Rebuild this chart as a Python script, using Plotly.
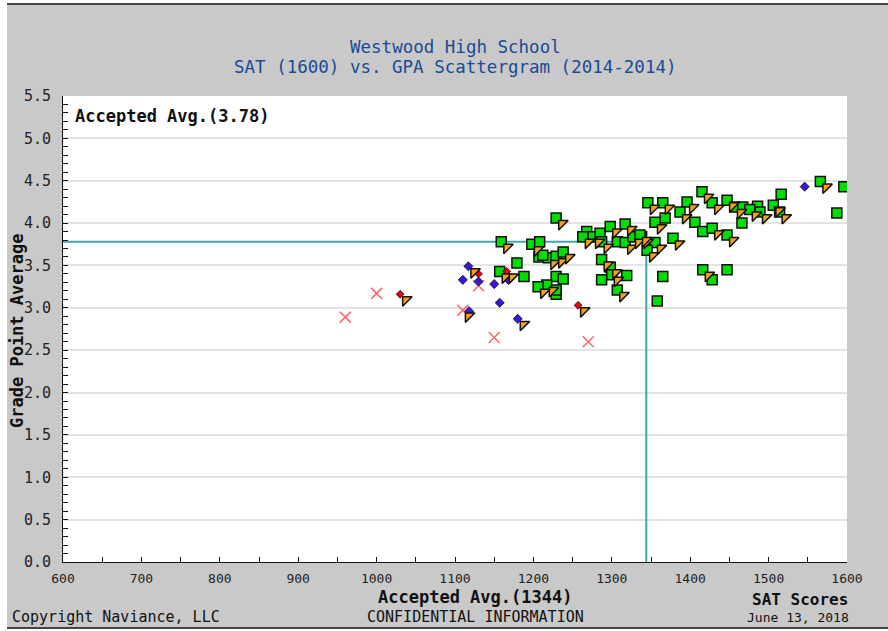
import plotly.graph_objects as go

# ---------------- data ----------------
# Accepted (green squares)
acc_sat = [1159, 1157, 1179, 1188, 1198, 1208, 1207, 1219, 1229, 1238, 1229, 1229, 1238, 1217, 1206,
           1229, 1229, 1212, 1268, 1276, 1285, 1298, 1317, 1263, 1307, 1317, 1327, 1338, 1287, 1287,
           1298, 1287, 1300, 1307, 1319, 1346, 1365, 1368, 1355, 1396, 1387, 1415, 1428, 1447, 1457,
           1467, 1466, 1406, 1416, 1428, 1447, 1336, 1355, 1345, 1378, 1365, 1416, 1428, 1447, 1358,
           1566, 1596, 1587, 1516, 1506, 1514, 1486, 1489, 1476]
acc_gpa = [3.78, 3.43, 3.53, 3.37, 3.75, 3.78, 3.60, 3.59, 3.61, 3.66, 4.06, 3.37, 3.34, 3.27, 3.25,
           3.16, 3.21, 3.62, 3.90, 3.84, 3.88, 3.96, 3.99, 3.84, 3.78, 3.77, 3.84, 3.84, 3.78, 3.57,
           3.48, 3.33, 3.39, 3.21, 3.38, 4.24, 4.24, 4.06, 4.01, 4.25, 4.13, 4.37, 4.24, 4.27, 4.19,
           4.19, 4.00, 4.01, 3.90, 3.94, 3.86, 3.86, 3.77, 3.68, 3.82, 3.37, 3.45, 3.33, 3.45, 3.08,
           4.49, 4.43, 4.12, 4.34, 4.21, 4.13, 4.20, 4.13, 4.16]

# Waitlisted (blue diamonds)
wait_sat = [1117, 1110, 1130, 1150, 1157, 1118, 1180, 1168, 1546]
wait_gpa = [3.49, 3.33, 3.31, 3.28, 3.06, 2.96, 2.87, 3.33, 4.43]

# Deferred (small red markers)
def_sat = [1030, 1130, 1166, 1257]
def_gpa = [3.16, 3.40, 3.43, 3.03]

# Denied (red x)
den_sat = [960, 1000, 1110, 1130, 1150, 1270]
den_gpa = [2.89, 3.17, 2.97, 3.26, 2.65, 2.60]

# Enrolled flag (orange triangles), at the same points as their base marks
enr_sat = [1159, 1157, 1198, 1219, 1229, 1238, 1229, 1217, 1206, 1276, 1298, 1317, 1263, 1317,
           1327, 1338, 1287, 1287, 1298, 1300, 1307, 1346, 1365, 1355, 1396, 1387, 1415, 1428,
           1447, 1457, 1428, 1447, 1336, 1355, 1345, 1378, 1416, 1566, 1506, 1514, 1489, 1476,
           1117, 1110, 1180, 1030, 1166, 1257]
enr_gpa = [3.78, 3.43, 3.75, 3.59, 3.61, 3.66, 4.06, 3.27, 3.25, 3.84, 3.96, 3.99, 3.84, 3.77,
           3.84, 3.84, 3.78, 3.57, 3.48, 3.39, 3.21, 4.24, 4.24, 4.01, 4.25, 4.13, 4.37, 4.24,
           4.27, 4.19, 3.94, 3.86, 3.86, 3.77, 3.68, 3.82, 3.45, 4.49, 4.21, 4.13, 4.13, 4.16,
           3.49, 2.97, 2.87, 3.16, 3.43, 3.03]

avg_sat = 1344
avg_gpa = 3.78

x_ticks = [600, 700, 800, 900, 1000, 1100, 1200, 1300, 1400, 1500, 1600]

# ---------------- layout geometry ----------------
W, H = 888, 631
ML, MR, MT, MB = 63, 41, 96, 69
PW, PH = W - ML - MR, H - MT - MB
XR = [600, 1600]
YR = [0, 5.5]


def px_x(px):
    return (px - ML) / PW


def px_y(py):
    return (H - MB - py) / PH


# triangle flag offset (pixels, right and down)
off = 5.7
dx = off * (XR[1] - XR[0]) / PW
dy = off * (YR[1] - YR[0]) / PH

FONT = "DejaVu Sans Mono"
GREY = "#C9C9C9"
INK = "#111111"

fig = go.Figure()

# accepted average guide lines
fig.add_trace(go.Scatter(x=[XR[0], avg_sat], y=[avg_gpa, avg_gpa], mode="lines",
                         line=dict(color="#44A7A7", width=2), hoverinfo="skip"))
fig.add_trace(go.Scatter(x=[avg_sat, avg_sat], y=[YR[0], avg_gpa], mode="lines",
                         line=dict(color="#44A7A7", width=2), hoverinfo="skip"))

fig.add_trace(go.Scatter(x=den_sat, y=den_gpa, mode="markers", name="Denied",
                         marker=dict(symbol="x-thin-open", size=11, color="#FF6A6A",
                                     line=dict(color="#FF6A6A", width=1.6))))
fig.add_trace(go.Scatter(x=acc_sat, y=acc_gpa, mode="markers", name="Accepted",
                         marker=dict(symbol="square", size=10, color="#00DD00",
                                     line=dict(color=INK, width=1.5))))
fig.add_trace(go.Scatter(x=wait_sat, y=wait_gpa, mode="markers", name="Waitlisted",
                         marker=dict(symbol="diamond", size=7, color="#3B16D6",
                                     line=dict(color=INK, width=0.8))))
fig.add_trace(go.Scatter(x=def_sat, y=def_gpa, mode="markers", name="Deferred",
                         marker=dict(symbol="diamond", size=6, color="#EE0000",
                                     line=dict(color=INK, width=0.8))))
fig.add_trace(go.Scatter(x=enr_sat, y=enr_gpa, mode="markers", name="Enrolled",
                         xaxis="x2", yaxis="y2",
                         marker=dict(symbol="triangle-nw", size=10.5, color="#F5A01E",
                                     line=dict(color=INK, width=1.5))))

annotations = [
    dict(text="Westwood High School", x=0.5, y=px_y(47), xanchor="center", yanchor="middle",
         font=dict(family=FONT, size=17.5, color="#1A4A96")),
    dict(text="SAT (1600) vs. GPA Scattergram (2014-2014)", x=0.5, y=px_y(67),
         xanchor="center", yanchor="middle", font=dict(family=FONT, size=17.5, color="#1A4A96")),
    dict(text="<b>Accepted Avg.(3.78)</b>", x=px_x(73), y=px_y(116), xanchor="left",
         yanchor="middle", font=dict(family=FONT, size=17, color=INK)),
    dict(text="<b>Accepted Avg.(1344)</b>", x=px_x(475), y=px_y(597), xanchor="center",
         yanchor="middle", font=dict(family=FONT, size=17, color=INK)),
    dict(text="<b>SAT Scores</b>", x=px_x(800), y=px_y(599), xanchor="center",
         yanchor="middle", font=dict(family=FONT, size=16, color=INK)),
    dict(text="Copyright Naviance, LLC", x=px_x(10), y=px_y(617), xanchor="left",
         yanchor="middle", font=dict(family=FONT, size=15, color=INK)),
    dict(text="CONFIDENTIAL INFORMATION", x=px_x(475), y=px_y(617), xanchor="center",
         yanchor="middle", font=dict(family=FONT, size=15, color=INK)),
    dict(text="June 13, 2018", x=px_x(798), y=px_y(617.5), xanchor="center",
         yanchor="middle", font=dict(family=FONT, size=13, color=INK)),
    dict(text="<b>Grade Point Average</b>", x=px_x(17), y=px_y(331), xanchor="center",
         yanchor="middle", textangle=-90, font=dict(family=FONT, size=17, color=INK)),
]
for a in annotations:
    a.update(xref="paper", yref="paper", showarrow=False)

shapes = [
    # white page strips around the grey panel
    dict(type="rect", x0=px_x(0), x1=px_x(W), y0=px_y(0), y1=px_y(3), fillcolor="white",
         line=dict(width=0)),
    dict(type="rect", x0=px_x(0), x1=px_x(7), y0=px_y(0), y1=px_y(H), fillcolor="white",
         line=dict(width=0)),
    dict(type="rect", x0=px_x(0), x1=px_x(W), y0=px_y(629), y1=px_y(H), fillcolor="white",
         line=dict(width=0)),
    # dark frame lines
    dict(type="line", x0=px_x(7), x1=px_x(W), y0=px_y(4), y1=px_y(4),
         line=dict(color="#444444", width=2)),
    dict(type="line", x0=px_x(7), x1=px_x(W), y0=px_y(628), y1=px_y(628),
         line=dict(color="#444444", width=2)),
]
for s in shapes:
    s.update(xref="paper", yref="paper", layer="above")

fig.update_layout(
    width=W, height=H, autosize=False,
    margin=dict(l=ML, r=MR, t=MT, b=MB, pad=0),
    paper_bgcolor=GREY, plot_bgcolor="white",
    showlegend=False,
    annotations=annotations,
    shapes=shapes,
    xaxis=dict(range=XR, tickvals=x_ticks, ticks="inside", ticklen=5, tickcolor=INK,
               minor=dict(dtick=50, ticks="inside", ticklen=5, tickcolor=INK),
               showline=True, linecolor=INK, linewidth=1, showgrid=False,
               zeroline=False, ticklabelstandoff=4,
               tickfont=dict(family=FONT, size=13, color="#222222")),
    yaxis=dict(range=YR, dtick=0.5, tick0=0, tickformat=".1f", ticks="inside", ticklen=5,
               tickcolor=INK,
               minor=dict(dtick=0.1, ticks="inside", ticklen=5, tickcolor=INK,
                          showgrid=False),
               showline=True, linecolor=INK, linewidth=1, showgrid=True,
               gridcolor="#E3E3E3", gridwidth=2, zeroline=False, ticklabelstandoff=8,
               tickfont=dict(family=FONT, size=15, color="#222222")),
    xaxis2=dict(overlaying="x", range=[XR[0] - dx, XR[1] - dx], visible=False),
    yaxis2=dict(overlaying="y", range=[YR[0] + dy, YR[1] + dy], visible=False),
)

fig.write_html("out.html", config={"displayModeBar": False},
               post_script="document.body.style.margin='0px';")
